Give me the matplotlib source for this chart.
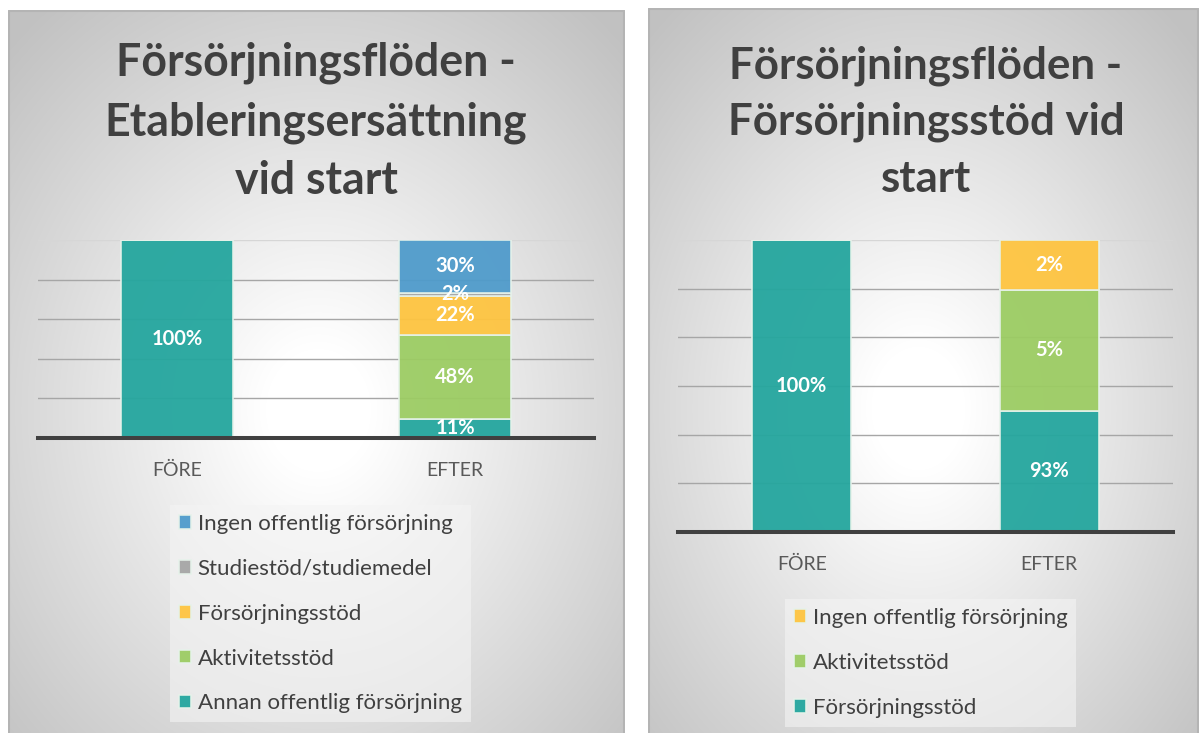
import numpy as np
import matplotlib.pyplot as plt

# data
categories = ['FÖRE', 'EFTER']

left_title = 'Försörjningsflöden -\nEtableringsersättning\nvid start'
left_series = ['Annan offentlig försörjning', 'Aktivitetsstöd', 'Försörjningsstöd',
               'Studiestöd/studiemedel', 'Ingen offentlig försörjning']
left_fore = [100, 0, 0, 0, 0]
left_efter = [11, 48, 22, 2, 30]
left_colors = ['#24a69e', '#9ccc63', '#fec440', '#a5a5a5', '#4f9bcb']

right_title = 'Försörjningsflöden -\nFörsörjningsstöd vid\nstart'
right_series = ['Försörjningsstöd', 'Aktivitetsstöd', 'Ingen offentlig försörjning']
right_fore = [100, 0, 0]
# segment heights as drawn, and the labels printed on them
right_efter = [41.5, 41.5, 17]
right_efter_labels = ['93%', '5%', '2%']
right_colors = ['#24a69e', '#9ccc63', '#fec440']

W, H = 1199, 733
fig = plt.figure(figsize=(W / 100, H / 100), dpi=100)
fig.patch.set_facecolor('white')
plt.rcParams['font.family'] = ['Lato', 'DejaVu Sans']


def rect(x0, y0, x1, y1):
    return [x0 / W, 1 - y1 / H, (x1 - x0) / W, (y1 - y0) / H]


def panel_bg(x0, y0, x1, y1, cx, cy):
    bg = fig.add_axes(rect(x0, y0, x1, y1))
    w, h = x1 - x0, y1 - y0
    xx, yy = np.meshgrid(np.arange(w), np.arange(h))
    r = np.sqrt(((xx - cx) / (w / 2)) ** 2 + ((yy - cy) / (h / 2)) ** 2) / np.sqrt(2)
    c = 1 - 0.24 * np.clip((r - 0.12) / 0.88, 0, 1)
    bg.imshow(np.dstack([c, c, c]), aspect='auto', extent=(0, w, h, 0))
    # panel edges (no bottom, panels run off the picture)
    bg.plot([0.5, 0.5, w - 1, w - 1], [h, 0.5, 0.5, h], color='#b4b4b4', lw=1.5)
    bg.set_xlim(0, w)
    bg.set_ylim(h, 0)
    bg.axis('off')
    return bg


def fit_title(text, xc, y, target_w):
    t = fig.text(xc / W, 1 - y / H, text, ha='center', va='center', fontsize=26,
                 fontweight='bold', color='#404040', linespacing=1.5)
    r = fig.canvas.get_renderer()
    bb = t.get_window_extent(r)
    t.set_fontsize(26 * target_w / bb.width)
    return t


def chart(box, fore, efter, colors, series, nsteps, labels_efter):
    ax = fig.add_axes(rect(*box))
    ax.patch.set_alpha(0)
    tot_f = sum(fore)
    tot_e = sum(efter)
    for k in range(1, nsteps + 1):
        ax.axhline(k / nsteps, color='#d6d6d6' if k == nsteps else '#a6a6a6', lw=1, zorder=1)
    bf, be = 0, 0
    bars = []
    for i in range(len(series)):
        hf = fore[i] / tot_f
        he = efter[i] / tot_e
        b = ax.bar([0, 1], [hf, he], bottom=[bf, be], width=0.4, color=colors[i],
                   alpha=0.95, edgecolor='#e6f2ea', lw=1.2, zorder=2, label=series[i])
        bars.append(b)
        if fore[i] > 0:
            ax.text(0, bf + hf / 2, f'{fore[i]}%', ha='center', va='center',
                    color='white', fontweight='bold', fontsize=14.5, zorder=4)
        if efter[i] > 0:
            ax.text(1, be + he / 2, labels_efter[i], ha='center', va='center',
                    color='white', fontweight='bold', fontsize=14.5, zorder=4)
        bf += hf
        be += he
    ax.axhline(0, color='#404040', lw=2.9, zorder=3, clip_on=False)
    ax.set_xlim(-0.5, 1.5)
    ax.set_ylim(0, 1)
    ax.set_yticks([])
    ax.set_xticks([0, 1])
    ax.set_xticklabels(categories, fontsize=14, color='#595959')
    ax.tick_params(axis='x', length=0, pad=17.5)
    for s in ax.spines.values():
        s.set_visible(False)
    return ax, bars


def add_legend(ax, handles, x, y):
    lg = ax.legend(handles=handles, loc='upper left', bbox_to_anchor=(x / W, 1 - y / H),
                   bbox_transform=fig.transFigure, fontsize=16, frameon=True,
                   handlelength=0.55, handleheight=0.55, handletextpad=0.3,
                   labelspacing=1.12, borderpad=0.4, borderaxespad=0, fancybox=False)
    lg.get_frame().set_facecolor('#f4f4f4')
    lg.get_frame().set_alpha(0.6)
    lg.get_frame().set_edgecolor('none')
    for t in lg.get_texts():
        t.set_color('#404040')
    return lg


# left panel
panel_bg(8, 10, 625, 733, 310, 400)
fit_title(left_title, 316, 122, 423)
axl, bl = chart((38, 240, 594, 438), left_fore, left_efter, left_colors, left_series, 5,
                [f'{v}%' for v in left_efter])
add_legend(axl, bl[::-1], 170, 505)

# right panel
panel_bg(648, 8, 1199, 733, 270, 400)
fit_title(right_title, 926, 122, 397)
axr, br = chart((678, 240, 1173, 532), right_fore, right_efter, right_colors, right_series, 6,
                right_efter_labels)
add_legend(axr, br[::-1], 785, 599)

fig.savefig('out.png', dpi=100)
